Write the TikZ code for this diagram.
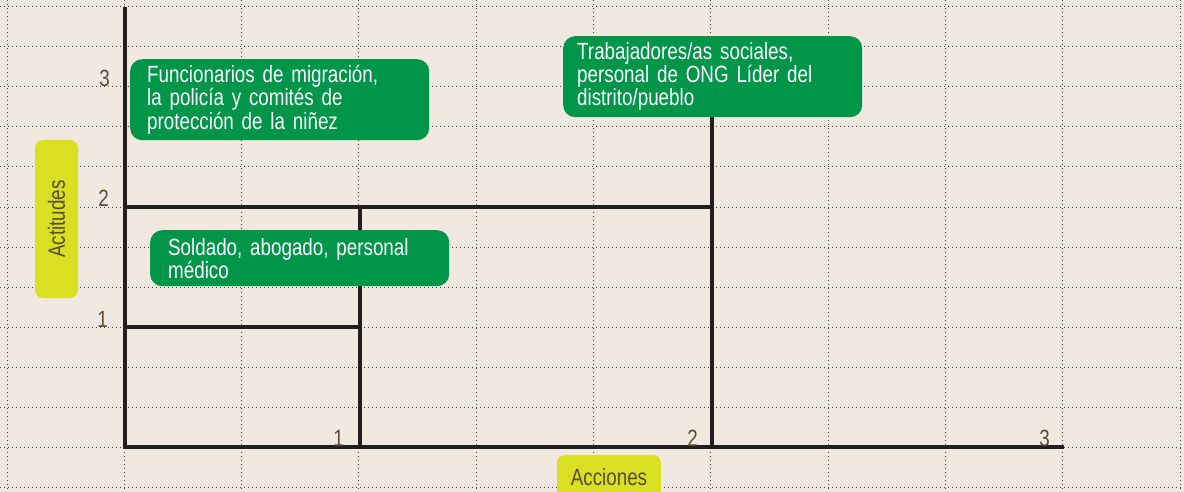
\documentclass[tikz,border=0pt]{standalone}
\usepackage{fontspec}
\setmainfont{Liberation Sans}[FakeStretch=0.80, WordSpace=0.7]
\usetikzlibrary{positioning}
\definecolor{paper}{HTML}{F1E9DF}
\definecolor{boxgreen}{HTML}{00964A}
\definecolor{tagyellow}{HTML}{D9E021}
\definecolor{inkbrown}{HTML}{5C4B37}
\definecolor{axisblack}{HTML}{231F20}
\tikzset{
  gridline/.style={draw=black!75, line width=1pt, dash pattern=on 1pt off 3pt},
  axisline/.style={draw=axisblack, line width=3.8pt},
  greenbox/.style={fill=boxgreen, rounded corners=12pt, text=white, align=left,
    anchor=north west, inner xsep=17pt, inner ysep=0pt, text width=265pt,
    font=\fontsize{23.5}{20.5}\selectfont},
  tagbox/.style={fill=tagyellow, rounded corners=8pt, text=inkbrown, inner sep=0pt,
    font=\fontsize{23.5}{20.5}\selectfont},
  ticklabel/.style={text=inkbrown, anchor=base east, inner sep=0pt,
    font=\fontsize{23.5}{20.5}\selectfont}
}
\begin{document}
\begin{tikzpicture}[x=1pt,y=-1pt]
\fill[paper] (0,0) rectangle (1184,492);
\useasboundingbox (0,0) rectangle (1184,492);
\clip (0,0) rectangle (1184,492);
% grid
\foreach \i in {0,...,10}
  \draw[gridline] (7+117.33*\i,0) -- (7+117.33*\i,492);
\foreach \j in {0,...,12}
  \draw[gridline] (0,7+40*\j) -- (1184,7+40*\j);
% axes and levels
\coordinate (O) at (125,447);
\coordinate (ytop) at (125,7);
\coordinate (xend) at (1064,447);
\coordinate (y1) at (125,327);
\coordinate (y2) at (125,207);
\coordinate (x1) at (360,447);
\coordinate (x2) at (712,447);
\coordinate (c11) at (360,327);
\coordinate (c12) at (360,207);
\coordinate (c22) at (712,207);
\coordinate (c23) at (712,100);
\draw[axisline] (ytop) -- (O) -- (xend);
\draw[axisline] (y1) -- (c11);
\draw[axisline] (y2) -- (c22);
\draw[axisline] (c12) -- (x1);
\draw[axisline] (c23) -- (x2);
% tick labels
\node[ticklabel] (t3) at (110,87) {3};
\node[ticklabel] (t2) at (109,207) {2};
\node[ticklabel] (t1) at (108,327) {1};
\node[ticklabel] (s1) at (344,446) {1};
\node[ticklabel] (s2) at (698,446) {2};
\node[ticklabel] (s3) at (1050,446) {3};
% groups
\node[greenbox, minimum height=81pt] (funcionarios) at (130,59)
  {Funcionarios de migración,\\la policía y comités de\\protección de la niñez};
\node[greenbox, minimum height=56pt, inner xsep=18pt, text width=263pt] (soldado) at (150,230)
  {Soldado, abogado, personal\\médico};
\node[greenbox, minimum height=81pt, inner xsep=14pt, text width=271pt] (trabajadores) at (563,36)
  {Trabajadores/as sociales,\\personal de ONG Líder del\\distrito/pueblo};
% axis names
\node[tagbox, rotate=90, minimum width=158pt, minimum height=43pt] (actitudes) at (56.5,219) {Actitudes};
\node[tagbox, minimum width=104pt, minimum height=44pt] (acciones) at (609,477) {Acciones};
\end{tikzpicture}
\end{document}
